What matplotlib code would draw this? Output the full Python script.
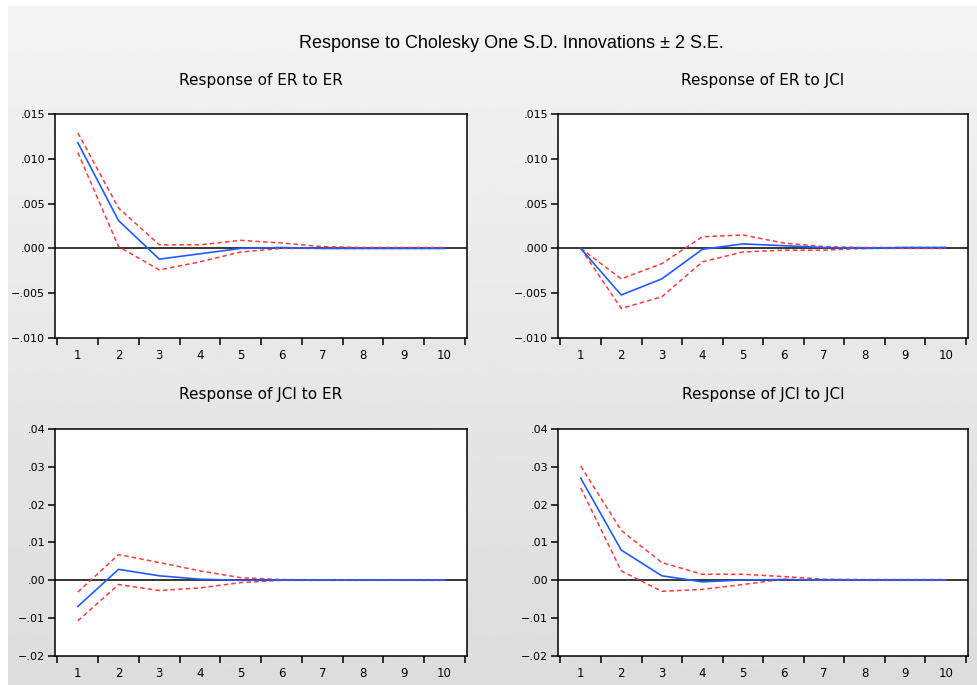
import numpy as np
import matplotlib
matplotlib.use("Agg")
import matplotlib.pyplot as plt
from matplotlib.ticker import FixedLocator, FuncFormatter

periods = [1, 2, 3, 4, 5, 6, 7, 8, 9, 10]
period_labels = ["1", "2", "3", "4", "5", "6", "7", "8", "9", "10"]

# Response of ER to ER
er_er = [0.0118, 0.0031, -0.0012, -0.0006, 0.0000, 0.0001, 0.0000, 0.0000, 0.0000, 0.0000]
er_er_hi = [0.0129, 0.0045, 0.0004, 0.0004, 0.0009, 0.0006, 0.0002, 0.0001, 0.0001, 0.0001]
er_er_lo = [0.0107, 0.0002, -0.0024, -0.0015, -0.0004, 0.0000, 0.0000, 0.0000, 0.0000, 0.0000]

# Response of ER to JCI
er_jci = [0.0000, -0.0052, -0.0034, -0.0001, 0.0005, 0.0003, 0.0001, 0.0000, 0.0001, 0.0001]
er_jci_hi = [0.0000, -0.0034, -0.0017, 0.0013, 0.0015, 0.0006, 0.0002, 0.0001, 0.0001, 0.0001]
er_jci_lo = [0.0000, -0.0067, -0.0054, -0.0015, -0.0004, -0.0002, -0.0002, 0.0000, 0.0000, 0.0000]

# Response of JCI to ER
jci_er = [-0.0069, 0.0029, 0.0012, 0.0003, 0.0000, 0.0001, 0.0001, 0.0001, 0.0001, 0.0001]
jci_er_hi = [-0.0031, 0.0068, 0.0047, 0.0025, 0.0007, 0.0002, 0.0001, 0.0001, 0.0001, 0.0001]
jci_er_lo = [-0.0107, -0.0011, -0.0027, -0.0020, -0.0006, 0.0000, 0.0000, 0.0000, 0.0000, 0.0000]

# Response of JCI to JCI
jci_jci = [0.0270, 0.0080, 0.0012, -0.0004, 0.0001, 0.0002, 0.0001, 0.0001, 0.0001, 0.0001]
jci_jci_hi = [0.0302, 0.0132, 0.0047, 0.0016, 0.0016, 0.0010, 0.0003, 0.0002, 0.0002, 0.0002]
jci_jci_lo = [0.0244, 0.0025, -0.0029, -0.0024, -0.0011, 0.0003, 0.0000, 0.0000, 0.0000, 0.0000]

titles = ["Response of ER to ER", "Response of ER to JCI",
          "Response of JCI to ER", "Response of JCI to JCI"]
top_yticks = [-0.010, -0.005, 0.000, 0.005, 0.010, 0.015]
bottom_yticks = [-0.02, -0.01, 0.00, 0.01, 0.02, 0.03, 0.04]

panels = [
    (er_er, er_er_hi, er_er_lo, top_yticks, 3),
    (er_jci, er_jci_hi, er_jci_lo, top_yticks, 3),
    (jci_er, jci_er_hi, jci_er_lo, bottom_yticks, 2),
    (jci_jci, jci_jci_hi, jci_jci_lo, bottom_yticks, 2),
]

W, H = 977, 685
fig = plt.figure(figsize=(W / 100, H / 100), dpi=100, facecolor="white")

# grey gradient background (thin white margin on left and top)
bg = fig.add_axes([8 / W, 0, 1 - 8 / W, 1 - 6 / H], zorder=-10)
grad = np.linspace(0.955, 0.865, 256).reshape(-1, 1)
bg.imshow(grad, aspect="auto", cmap="gray", vmin=0, vmax=1, extent=[0, 1, 0, 1])
bg.axis("off")

# axes boxes in pixels: left, top, right, bottom
boxes = [(55, 114, 467, 338), (558, 114, 968, 338),
         (55, 429, 467, 656), (558, 429, 968, 656)]


def fmt(decimals):
    def f(v, pos):
        s = f"{abs(v):.{decimals}f}".lstrip("0")
        return ("\u2212" + s) if v < -1e-12 else s
    return f


for (resp, hi, lo, yt, dec), (l, t, r, b), title in zip(panels, boxes, titles):
    ax = fig.add_axes([l / W, 1 - b / H, (r - l) / W, (b - t) / H])
    ax.set_facecolor("white")
    ax.axhline(0, color="black", lw=1.1, zorder=1)
    ax.plot(periods, hi, color="#ff3b3b", lw=1.1, ls=(0, (3, 2)), zorder=2)
    ax.plot(periods, lo, color="#ff3b3b", lw=1.1, ls=(0, (3, 2)), zorder=2)
    ax.plot(periods, resp, color="#1f5cff", lw=1.2, zorder=3)

    ax.set_xlim(0.44, 10.55)
    ax.set_ylim(yt[0], yt[-1])
    ax.xaxis.set_major_locator(FixedLocator(np.arange(0.5, 11, 1)))
    ax.xaxis.set_major_formatter(FuncFormatter(lambda v, p: ""))
    ax.set_xticks(periods, minor=True)
    ax.set_xticklabels(period_labels, minor=True)
    ax.tick_params(axis="x", which="major", direction="out", length=5, width=1.1)
    ax.tick_params(axis="x", which="minor", length=0, pad=8, labelsize=8.5)
    ax.set_yticks(yt)
    ax.yaxis.set_major_formatter(FuncFormatter(fmt(dec)))
    ax.tick_params(axis="y", direction="out", length=5, width=1.1, labelsize=8, pad=2)
    for s in ax.spines.values():
        s.set_linewidth(1.1)
        s.set_color("black")

    fig.text((l + r) / 2 / W, 1 - (t - 34) / H, title, ha="center", va="center",
             fontsize=11, family="DejaVu Sans")

fig.text(511 / W, 1 - 43 / H, "Response to Cholesky One S.D. Innovations \u00b1 2 S.E.",
         ha="center", va="center", fontsize=13, family="Liberation Sans")

fig.savefig("out.png", dpi=100)
